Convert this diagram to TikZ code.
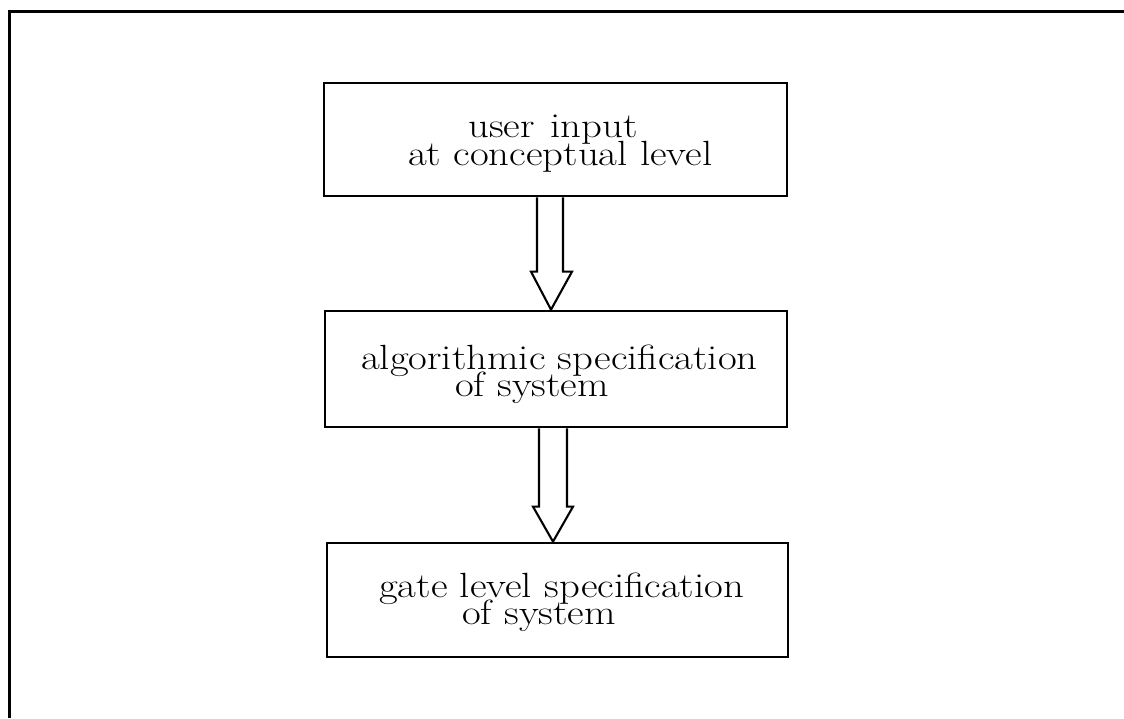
\documentclass[tikz,border=0pt]{standalone}
\usepackage{fontspec}
\usepackage{graphicx}
\usetikzlibrary{calc}
\begin{document}
\begin{tikzpicture}[x=1pt,y=-1pt,
  frameline/.style={line width=3pt},
  box/.style={draw, line width=2.7pt, inner sep=0pt, rectangle},
  lbl/.style={inner sep=0pt, anchor=base west, font=\fontsize{35}{28}\selectfont\addfontfeature{FakeBold=0.8}},
  blockarrow/.style={draw, line width=2.1pt, line join=miter}]
\useasboundingbox (0,0) rectangle (1124,718);
% frame
\coordinate (fbl) at (9,718);
\coordinate (ftl) at (9,11);
\coordinate (ftr) at (1124,11);
\draw[frameline] (fbl) -- (ftl) -- (ftr);
% boxes
\node[box, minimum width=463pt, minimum height=113pt] (b1) at (555.5,139.5) {};
\node[box, minimum width=462pt, minimum height=116pt] (b2) at (556,369) {};
\node[box, minimum width=461pt, minimum height=114pt] (b3) at (557.5,600) {};
% labels
\node[lbl] (t1a) at (468,137) {\scalebox{1.165}[1]{user\hspace{3pt} input}};
\node[lbl] (t1b) at (408,165) {\scalebox{1.165}[1]{at conceptual level}};
\node[lbl] (t2a) at (361,369) {\scalebox{1.165}[1]{algorithmic specification}};
\node[lbl] (t2b) at (455,396) {\scalebox{1.165}[1]{of system}};
\node[lbl] (t3a) at (379,597) {\scalebox{1.165}[1]{gate level specification}};
\node[lbl] (t3b) at (462,624) {\scalebox{1.165}[1]{of system}};
% arrows
\draw[blockarrow] ($(b1.south)+(-18.5,0)$) -- ($(b2.north)+(-19,-38)$) -- ($(b2.north)+(-25,-38)$)
  -- ($(b2.north)+(-5,0)$) -- ($(b2.north)+(16,-38)$) -- ($(b2.north)+(7,-38)$) -- ($(b1.south)+(7.5,0)$);
\draw[blockarrow] ($(b2.south)+(-17,0)$) -- ($(b3.north)+(-18.5,-35)$) -- ($(b3.north)+(-24.5,-35)$)
  -- ($(b3.north)+(-4.5,0)$) -- ($(b3.north)+(15.5,-35)$) -- ($(b3.north)+(9.5,-35)$) -- ($(b2.south)+(11,0)$);
\end{tikzpicture}
\end{document}
